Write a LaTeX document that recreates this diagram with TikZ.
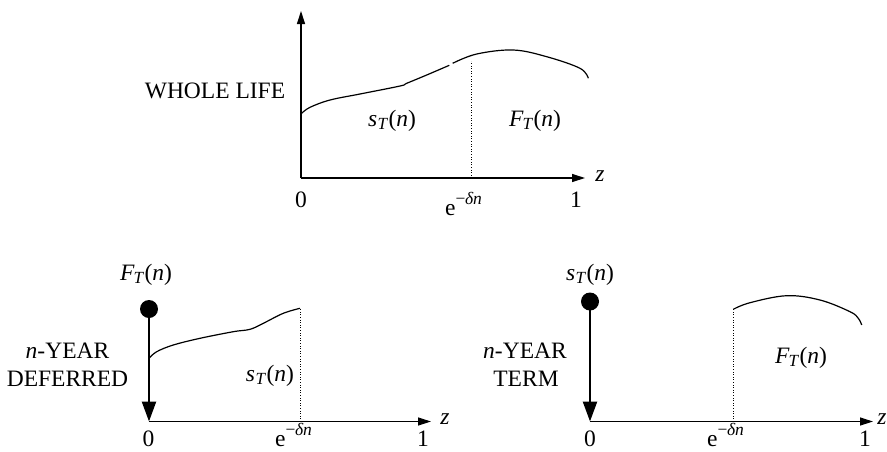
\documentclass[tikz,border=0pt]{standalone}
\usepackage{fontspec}
\setmainfont{Liberation Serif}
\usetikzlibrary{arrows.meta}
\newcommand{\subT}{\raisebox{-0.3ex}{\fontsize{17}{17}\selectfont\textit{T}}}
\newcommand{\sTn}{\textit{s}\kern0.5pt\subT\kern0.5pt(\textit{n})}
\newcommand{\FTn}{\textit{F}\kern-1pt\subT\kern0.5pt(\textit{n})}
\newcommand{\edn}{e\raisebox{11pt}{\fontsize{17.5}{17.5}\selectfont −\kern-0.5pt\textit{δn}}}
\begin{document}
\begin{tikzpicture}[x=1pt,y=-1pt,
  every node/.style={font=\fontsize{23.5}{27}\selectfont, inner sep=0pt},
  axis/.style={line width=1.2pt, -{Triangle[length=13pt,width=8pt]}},
  drop/.style={line width=2.4pt, -{Triangle[length=20pt,width=14pt]}},
  curve/.style={line width=1.2pt},
  guide/.style={line width=0.6pt, dotted},
  dot/.style={circle, fill=black, minimum size=18pt}]
\useasboundingbox (0,0) rectangle (887,451);
% ---------- top: whole life ----------
\coordinate (o1) at (301,178);
\coordinate (ytop) at (301,11);
\coordinate (xend1) at (585,178);
\draw[axis] (o1) -- (ytop);
\draw[axis] (o1) -- (xend1);
\coordinate (d1b) at (471,178);
\coordinate (d1t) at (471,61);
\draw[guide] (d1b) -- (d1t);
\draw[curve] plot[smooth, tension=0.6] coordinates {(301.7,113.3) (310,107.3) (330,100) (360,94) (400,86) (406.7,83.3) (426.7,75) (449.3,65.3)};
\draw[curve] plot[smooth, tension=0.6] coordinates {(452.7,63.3) (476.7,54) (513.3,50) (546.7,56.7) (580,68.3) (588.3,78.3)};
\node[anchor=base] (wl) at (215,98.5) {WHOLE LIFE};
\node[anchor=base] (s1) at (392,126) {\sTn};
\node[anchor=base] (f1) at (535,126) {\FTn};
\node (z1) at (600,176) {\textit{z}};
\node[anchor=base] (zero1) at (301,207) {0};
\node[anchor=base west] (e1) at (445,215) {\edn};
\node[anchor=base] (one1) at (576,207) {1};
% ---------- bottom left: n-year deferred ----------
\node[dot] (dotL) at (149,309) {};
\coordinate (o2) at (149,421.5);
\coordinate (xend2) at (431,421.5);
\draw[drop] (dotL.center) -- (o2);
\draw[axis] (o2) -- (xend2);
\coordinate (d2b) at (300,421.5);
\coordinate (d2t) at (300,308);
\draw[guide] (d2b) -- (d2t);
\draw[curve] plot[smooth, tension=0.6] coordinates {(149,358.3) (156.7,351.7) (173.3,345) (200,338.3) (233.3,331.7) (250,329.3) (263.3,323.3) (283.3,313.3) (300,308.3)};
\node[anchor=base] (fL) at (146,280) {\FTn};
\node[anchor=base] (nyL) at (67.5,358) {\textit{n}-YEAR};
\node[anchor=base] (dfL) at (67.5,386.5) {DEFERRED};
\node[anchor=base] (sL) at (270,381) {\sTn};
\node (z2) at (445,419) {\textit{z}};
\node[anchor=base] (zero2) at (148.5,446) {0};
\node[anchor=base west] (e2) at (275,446) {\edn};
\node[anchor=base] (one2) at (423,446) {1};
% ---------- bottom right: n-year term ----------
\node[dot] (dotR) at (590,301.5) {};
\coordinate (o3) at (590,421.5);
\coordinate (xend3) at (873,421.5);
\draw[drop] (dotR.center) -- (o3);
\draw[axis] (o3) -- (xend3);
\coordinate (d3b) at (733,421.5);
\coordinate (d3t) at (733,309);
\draw[guide] (d3b) -- (d3t);
\draw[curve] plot[smooth, tension=0.6] coordinates {(733.3,309.3) (750,302.7) (786.7,295.7) (820,300) (850,311.7) (858.3,318.3) (861.7,325)};
\node[anchor=base] (sR) at (590,280) {\sTn};
\node[anchor=base] (nyR) at (525,358) {\textit{n}-YEAR};
\node[anchor=base] (tmR) at (526,386.5) {TERM};
\node[anchor=base] (fR) at (801,363) {\FTn};
\node (z3) at (882,419) {\textit{z}};
\node[anchor=base] (zero3) at (590,446) {0};
\node[anchor=base west] (e3) at (707,446) {\edn};
\node[anchor=base] (one3) at (865,446) {1};
\end{tikzpicture}
\end{document}
